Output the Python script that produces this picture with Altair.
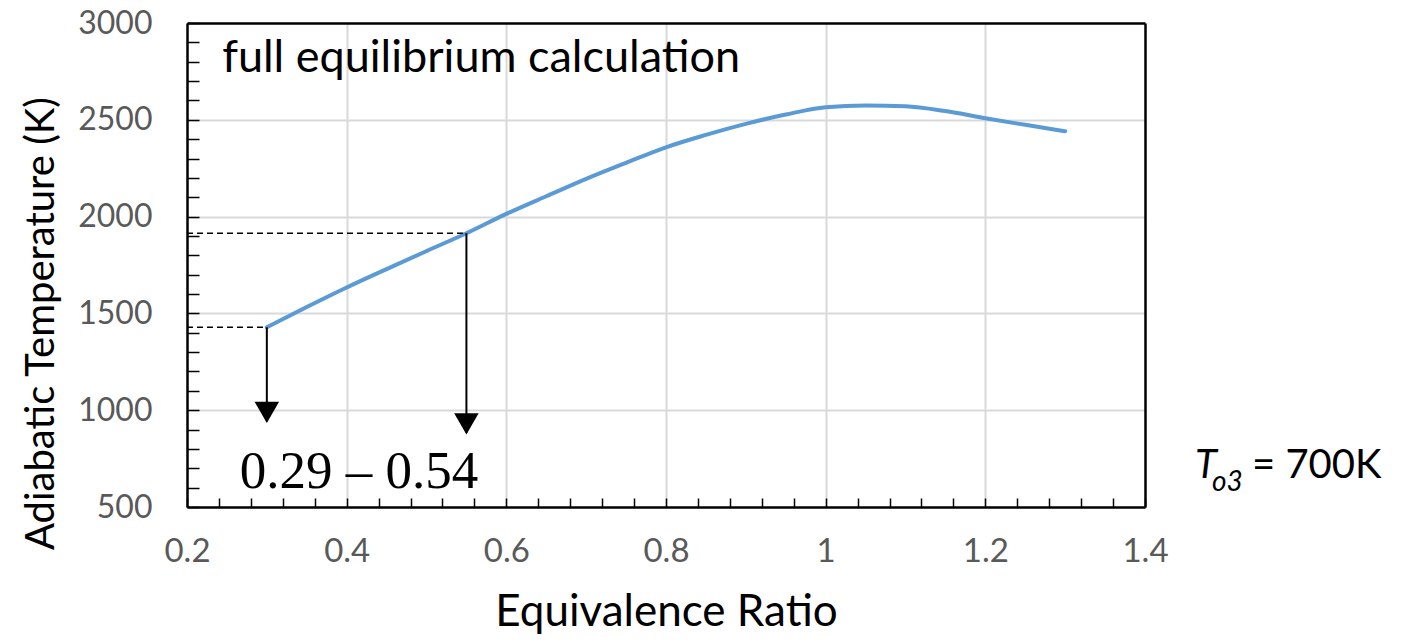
import altair as alt
import pandas as pd

# ---- data ----
phi = [0.30, 0.35, 0.40, 0.45, 0.50, 0.55, 0.60, 0.65, 0.70, 0.75, 0.80,
       0.85, 0.90, 0.95, 1.00, 1.05, 1.10, 1.15, 1.20, 1.25, 1.30]
temp = [1428, 1533, 1634, 1729, 1822, 1914, 2014, 2105, 2195, 2278, 2358,
        2422, 2479, 2527, 2565, 2574, 2570, 2545, 2508, 2474, 2441]

marker_phi = [0.30, 0.55]
marker_temp = [1428, 1914]
marker_start = [0.2, 0.2]
arrow_tip = [942, 883]

x_major = [0.2, 0.4, 0.6, 0.8, 1.0, 1.2, 1.4]
y_major = [500, 1000, 1500, 2000, 2500, 3000]
x_minor = [round(0.2 + 0.04 * i, 2) for i in range(31)]
y_minor = list(range(500, 3001, 100))

# annotation anchors (data space)
label_text = ["full equilibrium calculation"]
label_phi = [0.244]
label_temp = [2747]

range_text = ["0.29 \u2013 0.54"]
range_phi = [0.266]
range_temp = [600]

t_text = ["T"]
t_phi = [1.4627]
t_temp = [652]
sub_text = ["o3"]
sub_phi = [1.484]
sub_temp = [585]
eq_text = ["= 700K"]
eq_phi = [1.534]
eq_temp = [652]

FONT = "Lato"

curve = pd.DataFrame({"phi": phi, "T": temp})
markers = pd.DataFrame({"phi": marker_phi, "T": marker_temp,
                        "x0": marker_start, "tip": arrow_tip})

xs = alt.Scale(domain=[0.2, 1.4], nice=False, zero=False)
ys = alt.Scale(domain=[500, 3000], nice=False, zero=False)

x_axis = alt.Axis(
    values=x_major, format=".1~f", title="Equivalence Ratio",
    grid=True, gridColor="#d9d9d9", gridWidth=2,
    gridOpacity={"condition": {"test": "datum.value <= 0.2001 || datum.value >= 1.3999", "value": 0}, "value": 1},
    ticks=False, tickSize=0, domain=True, domainColor="black", domainWidth=2.5,
    labelFont=FONT, labelFontSize=33, labelColor="#595959", labelPadding=28,
    labelFlush=False, labelOverlap=False,
    titleFont=FONT, titleFontSize=44, titleFontWeight="normal", titleColor="black",
    titleY=118, titleBaseline="alphabetic", orient="bottom", zindex=0,
)
y_axis = alt.Axis(
    values=y_major, format="d", title="Adiabatic Temperature (K)",
    grid=True, gridColor="#d9d9d9", gridWidth=2,
    gridOpacity={"condition": {"test": "datum.value <= 500.1 || datum.value >= 2999.9", "value": 0}, "value": 1},
    ticks=False, tickSize=0, domain=True, domainColor="black", domainWidth=2.5,
    labelFont=FONT, labelFontSize=32, labelColor="#595959", labelPadding=35,
    labelFlush=False, labelOverlap=False,
    titleFont=FONT, titleFontSize=40, titleFontWeight="normal", titleColor="black",
    titleAngle=-90, titleX=-134, titleY=300, titleAlign="center",
    titleBaseline="alphabetic", orient="left", zindex=0,
)

x_minor_axis = alt.Axis(values=x_minor, title=None, labels=False, grid=False,
                        domain=False, ticks=True, tickSize=9, tickColor="black",
                        tickWidth=1.5, offset=-9, orient="bottom", zindex=1)
y_minor_axis = alt.Axis(values=y_minor, title=None, labels=False, grid=False,
                        domain=False, ticks=True, tickSize=12, tickColor="black",
                        tickWidth=1.5, offset=-12, orient="left", zindex=1)

x_top_axis = alt.Axis(title=None, labels=False, grid=False, ticks=False,
                      domain=True, domainColor="black", domainWidth=2.5,
                      orient="top", zindex=1)
y_right_axis = alt.Axis(title=None, labels=False, grid=False, ticks=False,
                        domain=True, domainColor="black", domainWidth=2.5,
                        orient="right", zindex=1)

line = alt.Chart(curve).mark_line(
    color="#5b9bd5", strokeWidth=4, interpolate="monotone", strokeCap="round"
).encode(
    x=alt.X("phi:Q", scale=xs, axis=x_axis),
    y=alt.Y("T:Q", scale=ys, axis=y_axis),
)

ticks_layer = alt.Chart(curve).mark_point(opacity=0).encode(
    x=alt.X("phi:Q", scale=xs, axis=x_minor_axis),
    y=alt.Y("T:Q", scale=ys, axis=y_minor_axis),
)

frame_layer = alt.Chart(curve).mark_point(opacity=0).encode(
    x=alt.X("phi:Q", scale=xs, axis=x_top_axis),
    y=alt.Y("T:Q", scale=ys, axis=y_right_axis),
)

dashed = alt.Chart(markers).mark_rule(
    color="black", strokeWidth=1.5, strokeDash=[6, 4]
).encode(
    x=alt.X("x0:Q", scale=xs, axis=None),
    x2="phi:Q",
    y=alt.Y("T:Q", scale=ys, axis=None),
)

arrows = alt.Chart(markers).mark_rule(color="black", strokeWidth=2).encode(
    x=alt.X("phi:Q", scale=xs, axis=None),
    y=alt.Y("T:Q", scale=ys, axis=None),
    y2="tip:Q",
)

heads = alt.Chart(markers).mark_point(
    shape="triangle-down", size=600, filled=True, color="black",
    opacity=1, strokeWidth=0, yOffset=-9
).encode(
    x=alt.X("phi:Q", scale=xs, axis=None),
    y=alt.Y("tip:Q", scale=ys, axis=None),
)


def text_layer(texts, xs_, ys_, **kw):
    df = pd.DataFrame({"txt": texts, "phi": xs_, "T": ys_})
    return alt.Chart(df).mark_text(align="left", baseline="alphabetic", **kw).encode(
        x=alt.X("phi:Q", scale=xs, axis=None),
        y=alt.Y("T:Q", scale=ys, axis=None),
        text="txt:N",
    )


t1 = text_layer(label_text, label_phi, label_temp, font=FONT, fontSize=45, color="black")
t2 = text_layer(range_text, range_phi, range_temp, font="Liberation Serif", fontSize=53, color="black")
t3 = text_layer(t_text, t_phi, t_temp, font=FONT, fontSize=40, fontStyle="italic", color="black")
t4 = text_layer(sub_text, sub_phi, sub_temp, font=FONT, fontSize=28, fontStyle="italic", color="black")
t5 = text_layer(eq_text, eq_phi, eq_temp, font=FONT, fontSize=40, color="black")

chart = alt.layer(
    line, ticks_layer, frame_layer, dashed, arrows, heads, t1, t2, t3, t4, t5
).resolve_axis(
    x="independent", y="independent"
).properties(
    width=958, height=484,
    autosize=alt.AutoSizeParams(type="none"),
    padding={"left": 179, "top": 15, "right": 253, "bottom": 135},
).configure_view(
    stroke=None
).configure(background="white")

chart.save("out.html", embed_options={"renderer": "svg", "actions": False})
